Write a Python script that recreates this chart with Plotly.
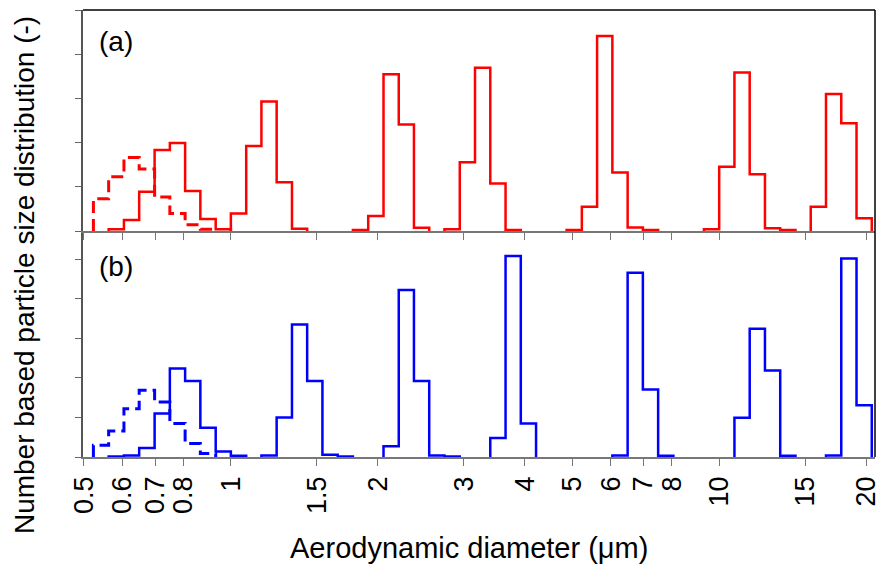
import plotly.graph_objects as go

# APS channel boundaries (µm), 32 channels per decade
bin_edges = [0.523, 0.562, 0.604, 0.649, 0.698, 0.750, 0.806, 0.866, 0.931, 1.000,
             1.075, 1.155, 1.241, 1.334, 1.433, 1.540, 1.655, 1.778, 1.911, 2.054,
             2.207, 2.371, 2.548, 2.738, 2.943, 3.162, 3.398, 3.652, 3.924, 4.217,
             4.532, 4.870, 5.233, 5.623, 6.043, 6.494, 6.978, 7.499, 8.058, 8.660,
             9.306, 10.000, 10.746, 11.548, 12.409, 13.335, 14.330, 15.399, 16.548,
             17.783, 19.110, 20.535]

# Panel (a) - red.  Each group: first channel lower edge, then heights per channel
a_dashed_start = 0.523
a_dashed = [0.73, 1.23, 1.67, 1.41, 0.77, 0.40, 0.14, 0.04]
a_solid_starts = [0.562, 1.000, 1.778, 2.738, 4.870, 9.306, 15.399]
a_solid_1 = [0.04, 0.25, 0.89, 1.84, 2.00, 0.91, 0.27, 0.04]
a_solid_2 = [0.40, 1.93, 2.94, 1.11, 0.05]
a_solid_3 = [0.02, 0.34, 3.56, 2.42, 0.075]
a_solid_4 = [0.04, 1.56, 3.71, 1.08, 0.02]
a_solid_5 = [0.02, 0.55, 4.43, 1.33, 0.08, 0.02]
a_solid_6 = [0.04, 1.46, 3.60, 1.29, 0.06, 0.02]
a_solid_7 = [0.55, 3.11, 2.45, 0.29]

# Panel (b) - blue
b_dashed_start = 0.523
b_dashed = [0.30, 0.66, 1.22, 1.69, 1.39, 0.85, 0.34, 0.09]
b_solid_starts = [0.562, 1.155, 2.054, 3.398, 6.043, 10.746, 16.548]
b_solid_1 = [0.01, 0.04, 0.23, 1.10, 2.24, 1.92, 0.74, 0.14, 0.03]
b_solid_2 = [0.04, 1.00, 3.35, 1.92, 0.06, 0.01]
b_solid_3 = [0.27, 4.22, 1.92, 0.04, 0.01]
b_solid_4 = [0.48, 5.08, 0.85]
b_solid_5 = [0.04, 4.66, 1.71, 0.03]
b_solid_6 = [0.99, 3.24, 2.19, 0.03]
b_solid_7 = [0.04, 5.02, 1.31]

tick_vals = [0.5, 0.6, 0.7, 0.8, 1, 1.5, 2, 3, 4, 5, 6, 7, 8, 10, 15, 20]
tick_text = ["0.5", "0.6", "0.7", "0.8", "1", "1.5", "2", "3", "4", "5", "6", "7", "8", "10", "15", "20"]

FONT = "Liberation Sans, Arial, sans-serif"


def step_path(start, heights):
    i0 = bin_edges.index(start)
    edges = bin_edges[i0:i0 + len(heights) + 1]
    xs = [edges[0]] + edges[:len(heights)] + [edges[-1]]
    ys = [0] + list(heights) + [0]
    return xs, ys


fig = go.Figure()

def add(start, heights, color, dash, width, xa, ya):
    xs, ys = step_path(start, heights)
    fig.add_trace(go.Scatter(x=xs, y=ys, mode="lines", line_shape="hv",
                             line=dict(color=color, width=width, dash=dash),
                             xaxis=xa, yaxis=ya, showlegend=False, hoverinfo="skip"))

a_solids = [a_solid_1, a_solid_2, a_solid_3, a_solid_4, a_solid_5, a_solid_6, a_solid_7]
b_solids = [b_solid_1, b_solid_2, b_solid_3, b_solid_4, b_solid_5, b_solid_6, b_solid_7]

add(a_dashed_start, a_dashed, "#ff0000", "12px,6px", 3, "x2", "y2")
for s, h in zip(a_solid_starts, a_solids):
    add(s, h, "#ff0000", "solid", 2.5, "x2", "y2")
add(b_dashed_start, b_dashed, "#0000ff", "12px,6px", 3, "x", "y")
for s, h in zip(b_solid_starts, b_solids):
    add(s, h, "#0000ff", "solid", 2.5, "x", "y")

xcommon = dict(type="log", range=[-0.3028, 1.3191], tickvals=tick_vals,
               ticks="outside", ticklen=7, tickwidth=1.2, tickcolor="#777777",
               showline=True, linecolor="#777777", linewidth=1.5,
               showgrid=False, zeroline=False)
ycommon = dict(dtick=1, tick0=0, ticks="outside", ticklen=6, tickwidth=1.2,
               tickcolor="#666666", showticklabels=False, showline=True,
               linecolor="#555555", linewidth=1.5, showgrid=False, zeroline=False)

fig.update_layout(
    width=878, height=564,
    margin=dict(l=83, r=3, t=10, b=107, autoexpand=False),
    plot_bgcolor="white", paper_bgcolor="white",
    font=dict(family=FONT, color="black"),
    xaxis=dict(**xcommon, domain=[0, 1], anchor="y", ticktext=tick_text,
               tickangle=-90, ticklabeloverflow="allow",
               tickfont=dict(size=27, family=FONT, color="black")),
    xaxis2=dict(**xcommon, domain=[0, 1], anchor="y2", matches="x",
                showticklabels=False),
    yaxis=dict(**ycommon, domain=[0, 0.5034], range=[0, 5.69]),
    yaxis2=dict(**ycommon, domain=[0.5056, 1], range=[0, 5.02]),
    shapes=[
        dict(type="line", xref="paper", yref="paper", x0=0, x1=1, y0=1, y1=1,
             line=dict(color="black", width=1.5)),
        dict(type="line", xref="paper", yref="paper", x0=1, x1=1, y0=0, y1=1,
             line=dict(color="black", width=1.5)),
    ],
    annotations=[
        dict(text="(a)", xref="paper", yref="paper", x=0.0177, y=0.9306,
             xanchor="left", yanchor="middle", showarrow=False,
             font=dict(size=28, family=FONT, color="black")),
        dict(text="(b)", xref="paper", yref="paper", x=0.0177, y=0.427,
             xanchor="left", yanchor="middle", showarrow=False,
             font=dict(size=28, family=FONT, color="black")),
        dict(text="Aerodynamic diameter (μm)", xref="paper", yref="paper",
             x=0.488, y=-0.2036, xanchor="center", yanchor="middle", showarrow=False,
             font=dict(size=29, family=FONT, color="black")),
        dict(text="Number based particle size distribution (-)", xref="paper", yref="paper",
             x=-0.0745, y=0.407, xanchor="center", yanchor="middle", textangle=-90,
             showarrow=False, font=dict(size=28, family=FONT, color="black")),
    ],
)

# remove the default page margin so the 878x564 figure fills the window exactly
fig.write_html("out.html",
               config={"displayModeBar": False},
               post_script="document.body.style.margin='0';"
                           "document.body.style.overflow='hidden';")
